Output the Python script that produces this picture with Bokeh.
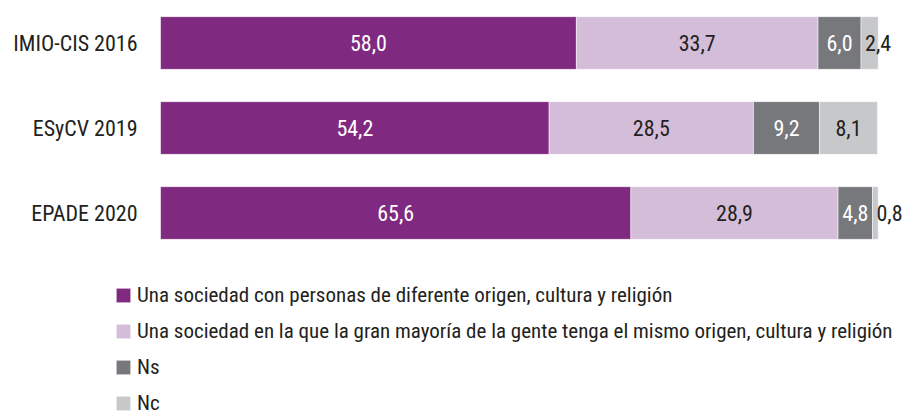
from bokeh.plotting import figure
from bokeh.models import ColumnDataSource, Range1d, Legend, LegendItem
from bokeh.core.properties import value
from bokeh.embed import file_html
from bokeh.resources import INLINE

categories = ["IMIO-CIS 2016", "ESyCV 2019", "EPADE 2020"]
series_names = [
    "Una sociedad con personas de diferente origen, cultura y religión",
    "Una sociedad en la que la gran mayoría de la gente tenga el mismo origen, cultura y religión",
    "Ns",
    "Nc",
]
diversa = [58.0, 54.2, 65.6]
homogenea = [33.7, 28.5, 28.9]
ns = [6.0, 9.2, 4.8]
nc = [2.4, 8.1, 0.8]

colors = ["#7F2A80", "#D3BDD9", "#77787B", "#C7C8CA"]
label_colors = ["#FFFFFF", "#231F20", "#FFFFFF", "#231F20"]
FONT_NAME = "'Roboto Condensed', 'Liberation Sans Narrow', 'DejaVu Sans Condensed', sans-serif"
FONT = value(FONT_NAME)
TEXT_DARK = "#231F20"

series = [diversa, homogenea, ns, nc]
keys = ["s0", "s1", "s2", "s3"]
ypos = list(range(len(categories)))

data = {"y": ypos, "cat": categories, "x0": [0] * len(categories)}
for k, s in zip(keys, series):
    data[k] = s
src = ColumnDataSource(data)

p = figure(width=910, height=415, output_backend="svg", toolbar_location=None,
           x_range=Range1d(-22.32, 104.6), y_range=Range1d(4.382, -0.5),
           min_border_left=0, min_border_right=0, min_border_top=0, min_border_bottom=0)

renderers = p.hbar_stack(keys, y="y", height=0.62, color=colors, source=src,
                         line_color="white", line_width=0.5)

# category labels (left of the bars)
p.text(x="x0", y="y", text="cat", source=src, text_align="right", text_baseline="middle",
       x_offset=-23, text_font=FONT, text_font_size="22px", text_color=TEXT_DARK)

# value labels
lx, ly, lt, lc, la, lo = [], [], [], [], [], []
for i, yy in enumerate(ypos):
    start = 0.0
    for j, s in enumerate(series):
        v = s[i]
        end = start + v
        txt = f"{v:.1f}".replace(".", ",")
        if v < 3:
            lx.append(start); la.append("left"); lo.append(4)
        else:
            lx.append((start + end) / 2); la.append("center"); lo.append(0)
        ly.append(yy); lt.append(txt); lc.append(label_colors[j])
        start = end
lsrc = ColumnDataSource(dict(x=lx, y=ly, text=lt, color=lc, align=la, off=lo))
p.text(x="x", y="y", text="text", source=lsrc, text_color="color", text_align="align",
       x_offset="off", text_baseline="middle", text_font=FONT, text_font_size="22px")

p.xaxis.visible = False
p.yaxis.visible = False
p.xgrid.visible = False
p.ygrid.visible = False
p.outline_line_color = None

legend = Legend(items=[LegendItem(label=n, renderers=[r]) for n, r in zip(series_names, renderers)],
                orientation="vertical", location=(114, 0),
                glyph_width=18, glyph_height=18, label_height=20,
                label_text_font=FONT_NAME,
                label_text_font_size="21px", label_text_color=TEXT_DARK,
                label_standoff=5, spacing=12, padding=0, margin=0,
                border_line_color=None, background_fill_alpha=0)
p.add_layout(legend, "center")

open("out.html", "w").write(file_html(p, INLINE))
